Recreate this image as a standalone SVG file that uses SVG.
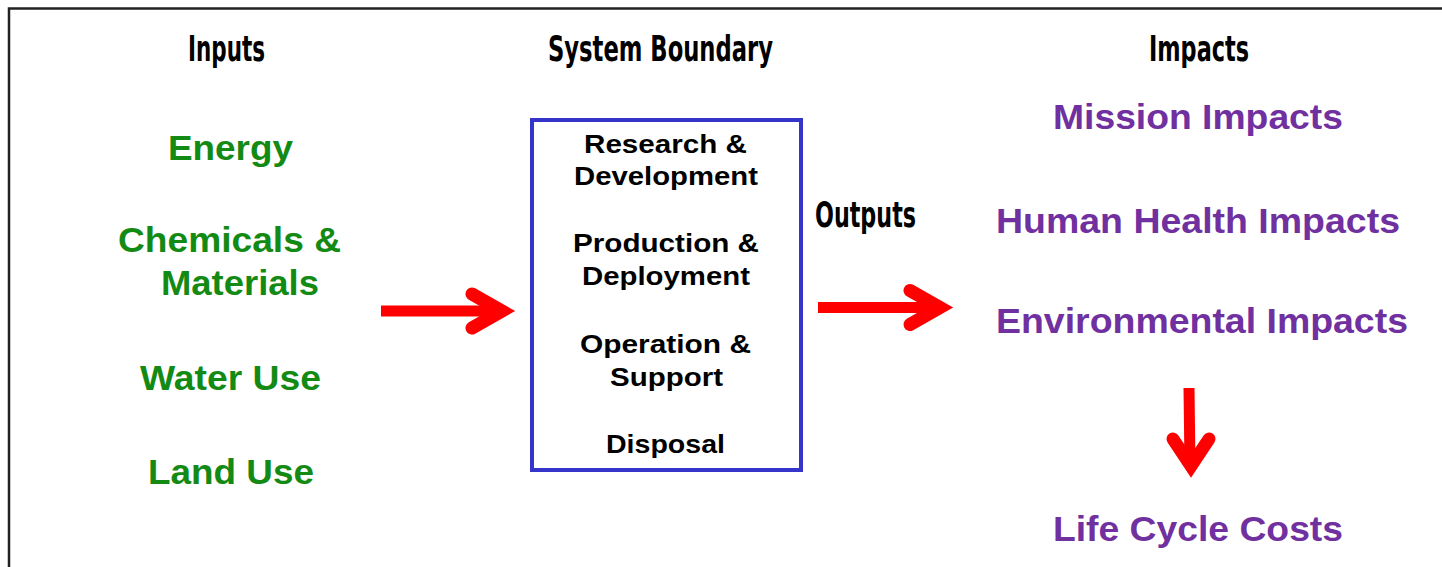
<svg xmlns="http://www.w3.org/2000/svg" width="1442" height="567" viewBox="0 0 1442 567">
<defs>
<style>
.hdr{font-family:"DejaVu Sans Condensed","DejaVu Sans",sans-serif;font-weight:bold;font-size:36px;fill:#000}
.in{font-family:"Liberation Sans",Arial,sans-serif;font-weight:bold;font-size:35px;fill:#138a13}
.out{font-family:"Liberation Sans",Arial,sans-serif;font-weight:bold;font-size:35px;fill:#7030a0}
.box{font-family:"Liberation Sans",Arial,sans-serif;font-weight:bold;font-size:25px;fill:#000}
.shaft{stroke:#ff0000;stroke-width:11;fill:none}
.head{stroke:#ff0000;stroke-width:13;fill:none;stroke-linecap:round;stroke-linejoin:miter}
</style>
</defs>
<rect width="1442" height="567" fill="#fff"/>
<path d="M9,567 V8.5 H1442" fill="none" stroke="#222" stroke-width="2.5"/>

<g id="headers">
<text class="hdr" x="188" y="61" textLength="77" lengthAdjust="spacingAndGlyphs">Inputs</text>
<text class="hdr" x="548" y="61" textLength="225" lengthAdjust="spacingAndGlyphs">System Boundary</text>
<text class="hdr" x="1149" y="61" textLength="100" lengthAdjust="spacingAndGlyphs">Impacts</text>
</g>

<g id="inputs">
<text class="in" x="168" y="160" textLength="125" lengthAdjust="spacingAndGlyphs">Energy</text>
<text class="in" x="118" y="252" textLength="223" lengthAdjust="spacingAndGlyphs">Chemicals &amp;</text>
<text class="in" x="161" y="295" textLength="158" lengthAdjust="spacingAndGlyphs">Materials</text>
<text class="in" x="140" y="390" textLength="181" lengthAdjust="spacingAndGlyphs">Water Use</text>
<text class="in" x="148" y="484" textLength="166" lengthAdjust="spacingAndGlyphs">Land Use</text>
</g>

<g id="system-boundary">
<rect x="532" y="120" width="269" height="350" fill="#fff" stroke="#3535cc" stroke-width="4"/>
<text class="box" x="584" y="153" textLength="163" lengthAdjust="spacingAndGlyphs">Research &amp;</text>
<text class="box" x="574" y="185" textLength="184" lengthAdjust="spacingAndGlyphs">Development</text>
<text class="box" x="573" y="252" textLength="186" lengthAdjust="spacingAndGlyphs">Production &amp;</text>
<text class="box" x="582" y="285" textLength="168" lengthAdjust="spacingAndGlyphs">Deployment</text>
<text class="box" x="580" y="353" textLength="171" lengthAdjust="spacingAndGlyphs">Operation &amp;</text>
<text class="box" x="610" y="386" textLength="113" lengthAdjust="spacingAndGlyphs">Support</text>
<text class="box" x="606" y="453" textLength="119" lengthAdjust="spacingAndGlyphs">Disposal</text>
</g>

<g id="outputs-label">
<text class="hdr" x="815" y="227" textLength="101" lengthAdjust="spacingAndGlyphs">Outputs</text>
</g>

<g id="impacts">
<text class="out" x="1053" y="129" textLength="290" lengthAdjust="spacingAndGlyphs">Mission Impacts</text>
<text class="out" x="996" y="233" textLength="404" lengthAdjust="spacingAndGlyphs">Human Health Impacts</text>
<text class="out" x="996" y="333" textLength="412" lengthAdjust="spacingAndGlyphs">Environmental Impacts</text>
<text class="out" x="1053" y="541" textLength="290" lengthAdjust="spacingAndGlyphs">Life Cycle Costs</text>
</g>

<g id="connectors">
<line class="shaft" x1="381" y1="311" x2="505" y2="311"/>
<polyline class="head" points="472,294 502,311 472,328"/>
<line class="shaft" x1="818" y1="307.5" x2="942" y2="307.5"/>
<polyline class="head" points="910,290.5 940,307.5 910,324.5"/>
<line class="shaft" x1="1189" y1="388" x2="1190" y2="466"/>
<polyline class="head" points="1173,439 1191,466 1209,439"/>
</g>
</svg>
